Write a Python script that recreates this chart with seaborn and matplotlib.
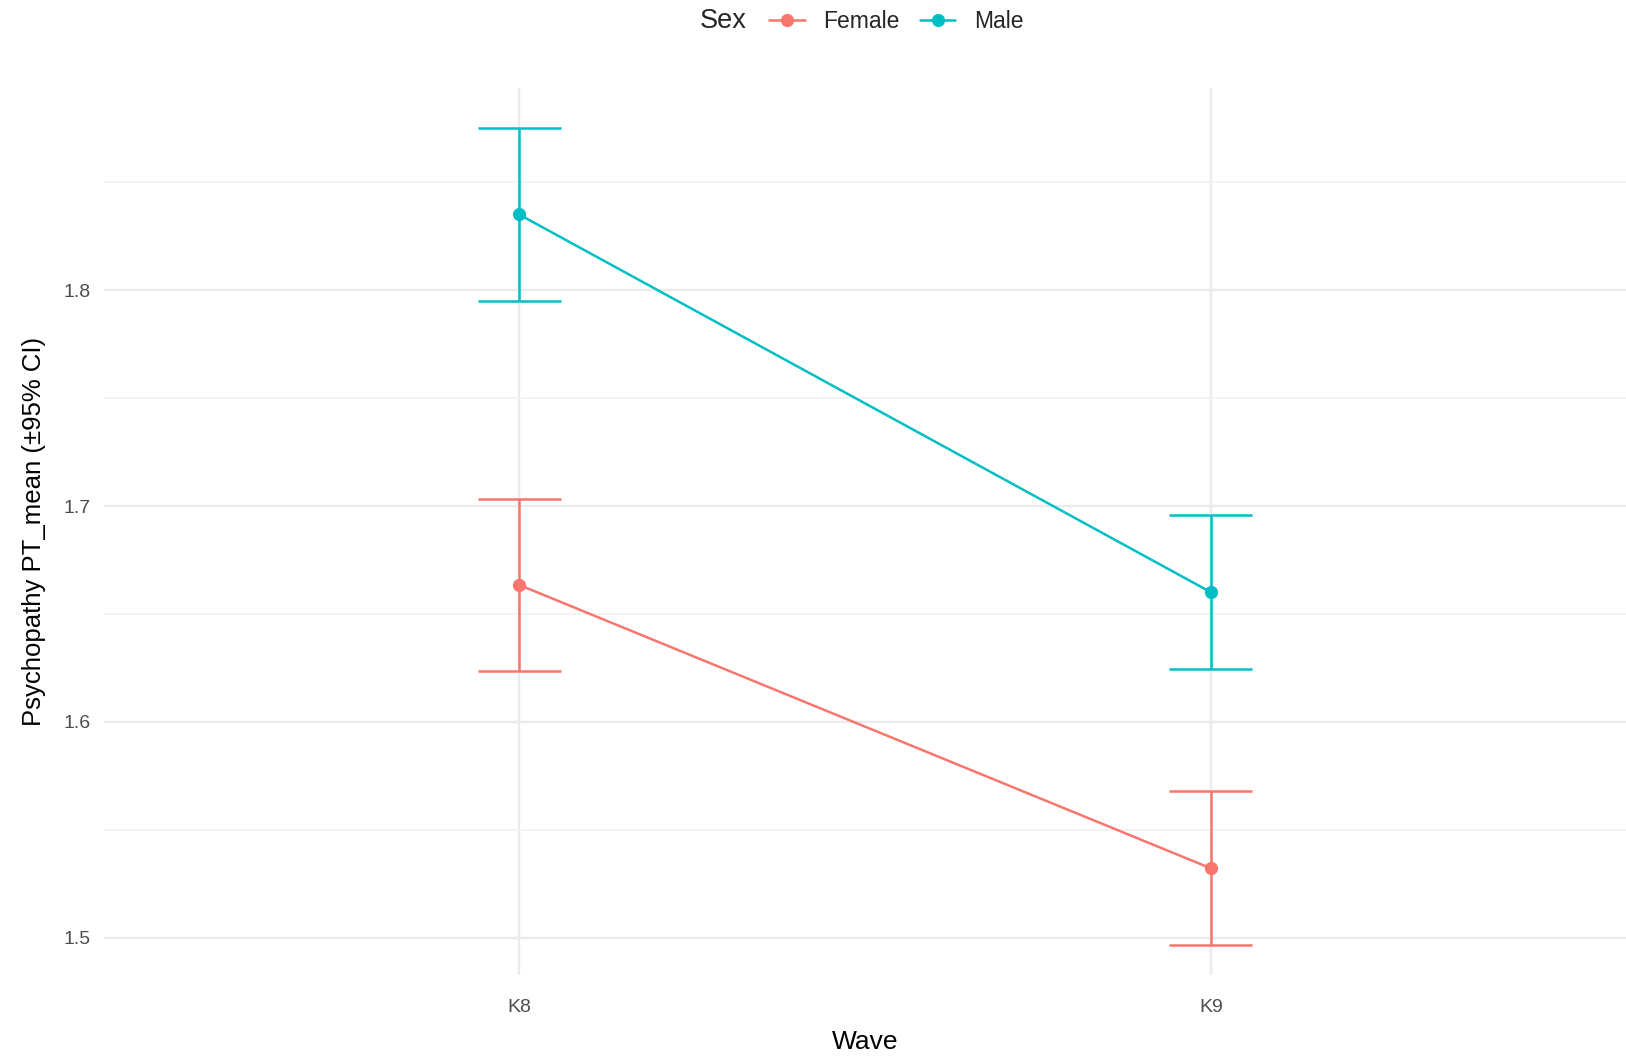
import matplotlib
matplotlib.use("Agg")
import matplotlib.pyplot as plt
import seaborn as sns
import pandas as pd
import numpy as np
from matplotlib.lines import Line2D
from matplotlib.ticker import MultipleLocator

waves = ["K8", "K9"]
sexes = ["Female", "Male"]
female_mean = [1.6635, 1.5322]
female_lo = [1.6236, 1.4966]
female_hi = [1.7034, 1.5678]
male_mean = [1.8351, 1.6601]
male_lo = [1.7952, 1.6245]
male_hi = [1.8750, 1.6957]
colors = {"Female": "#F8766D", "Male": "#00BFC4"}

rows = []
for s, m, lo, hi in [("Female", female_mean, female_lo, female_hi),
                     ("Male", male_mean, male_lo, male_hi)]:
    for i, w in enumerate(waves):
        rows.append({"Wave": w, "pos": i, "Sex": s, "mean": m[i], "lo": lo[i], "hi": hi[i]})
df = pd.DataFrame(rows)

sns.set_theme(style="white")
plt.rcParams["font.family"] = ["Liberation Sans", "DejaVu Sans"]

fig = plt.figure(figsize=(16.26, 10.6), dpi=100)
ax = fig.add_axes([0.064, 0.080, 0.936, 0.837])

# grid
ax.set_axisbelow(True)
ax.yaxis.set_major_locator(MultipleLocator(0.1))
ax.yaxis.set_minor_locator(MultipleLocator(0.05))
ax.grid(which="major", axis="both", color="#EBEBEB", linewidth=1.7)
ax.grid(which="minor", axis="y", color="#F2F2F2", linewidth=1.3)

lw = 1.8
for s in sexes:
    d = df[df["Sex"] == s]
    ax.vlines(d["pos"], d["lo"], d["hi"], color=colors[s], linewidth=lw, zorder=2)
    ax.hlines(d["lo"], d["pos"] - 0.06, d["pos"] + 0.06, color=colors[s], linewidth=lw, zorder=2)
    ax.hlines(d["hi"], d["pos"] - 0.06, d["pos"] + 0.06, color=colors[s], linewidth=lw, zorder=2)

sns.lineplot(data=df, x="pos", y="mean", hue="Sex", hue_order=sexes, palette=colors,
             marker="o", markersize=9.5, markeredgewidth=0, linewidth=lw, ax=ax,
             legend=False, zorder=3)

ax.set_xlim(-0.6, 1.6)
ax.set_ylim(1.4827, 1.8937)
ax.set_xticks(range(len(waves)))
ax.set_xticklabels(waves)
ax.tick_params(axis="both", which="both", length=0, labelsize=14, labelcolor="#4D4D4D")
ax.tick_params(axis="x", pad=17)
ax.tick_params(axis="y", pad=10)
ax.yaxis.set_major_formatter(matplotlib.ticker.FormatStrFormatter("%.1f"))
for sp in ax.spines.values():
    sp.set_visible(False)
ax.set_xlabel("Wave", fontsize=19, color="black", labelpad=10)
ax.set_ylabel("Psychopathy PT_mean (±95% CI)", fontsize=18.5, color="black", labelpad=12)

handles = [Line2D([0], [0], color=colors[s], marker="o", markersize=9.5, markeredgewidth=0, linewidth=lw)
           for s in sexes]
leg = fig.legend(handles, sexes, loc="center left", bbox_to_anchor=(0.473, 0.980), ncol=2,
                 frameon=False, fontsize=16.5, handlelength=1.55, columnspacing=0.9,
                 handletextpad=0.8, borderpad=0, borderaxespad=0)
fig.text(0.4445, 0.980, "Sex", fontsize=19.5, ha="center", va="center")

fig.savefig("out.png", dpi=100, facecolor="white")
